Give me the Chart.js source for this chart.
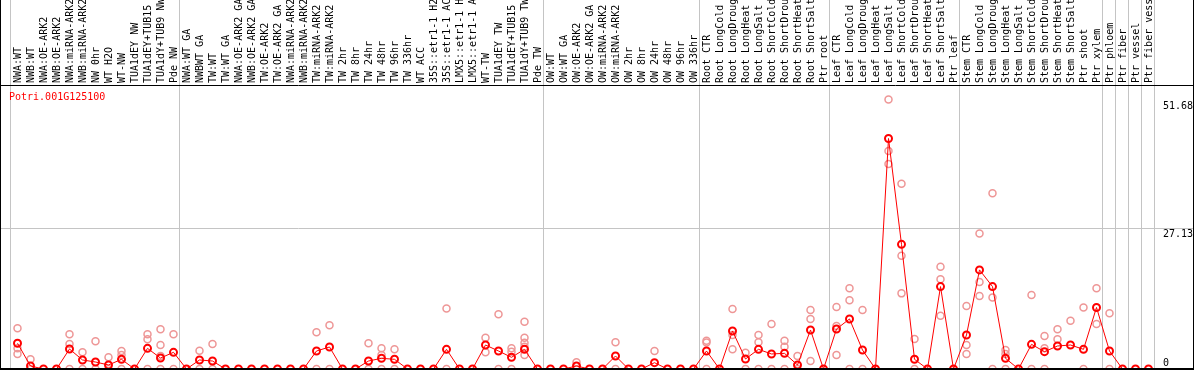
<!DOCTYPE html>
<html><head><meta charset="utf-8">
<script src="https://cdn.jsdelivr.net/npm/chart.js@4.4.1/dist/chart.umd.min.js"></script>
<style>html,body{margin:0;padding:0;background:#fff;overflow:hidden}#wrap{width:1194px;height:370px;position:relative}</style>
</head><body><div id="wrap"><canvas id="c" width="1194" height="370"></canvas></div>
<script>
const geneId = "Potri.001G125100";
const categories = [
 "NWA:WT","NWB:WT","NWA:OE-ARK2","NWB:OE-ARK2","NWA:miRNA-ARK2","NWB:miRNA-ARK2","NW 0hr","WT H2O","WT-NW","TUA1dEY NW","TUA1dEY+TUB15","TUA1dY+TUB9 NW","Pde NW",
 "NWA:WT GA","NWBWT GA","TW:WT","TW:WT GA","NWA:OE-ARK2 GA","NWB:OE-ARK2 GA","TW:OE-ARK2","TW:OE-ARK2 GA","NWA:miRNA-ARK2","NWB:miRNA-ARK2","TW:miRNA-ARK2","TW:miRNA-ARK2","TW 2hr","TW 8hr","TW 24hr","TW 48hr","TW 96hr","TW 336hr","WT ACC","35S::etr1-1 H2","35S::etr1-1 AC","LMX5::etr1-1 H","LMX5::etr1-1 A","WT-TW","TUA1dEY TW","TUA1dEY+TUB15","TUA1dY+TUB9 TW","Pde TW",
 "OW:WT","OW:WT GA","OW:OE-ARK2","OW:OE-ARK2 GA","OW:miRNA-ARK2","OW:miRNA-ARK2","OW 2hr","OW 8hr","OW 24hr","OW 48hr","OW 96hr","OW 336hr",
 "Root CTR","Root LongCold","Root LongDroug","Root LongHeat","Root LongSalt","Root ShortCold","Root ShortDrou","Root ShortHeat","Root ShortSalt","Ptr root",
 "Leaf CTR","Leaf LongCold","Leaf LongDroug","Leaf LongHeat","Leaf LongSalt","Leaf ShortCold","Leaf ShortDrou","Leaf ShortHeat","Leaf ShortSalt","Ptr leaf",
 "Stem CTR","Stem LongCold","Stem LongDroug","Stem LongHeat","Stem LongSalt","Stem ShortCold","Stem ShortDrou","Stem ShortHeat","Stem ShortSalt","Ptr shoot","Ptr xylem",
 "Ptr phloem","Ptr fiber","Ptr vessel","Ptr fiber vess"
];
const groupSizes = [13, 28, 12, 10, 10, 11, 1, 1, 1, 1];
const meanValues = [
 4.93,0.57,0,0,3.83,1.73,1.34,0.77,1.85,0,3.96,2.1,3.2,
 0,1.73,1.53,0,0,0,0,0,0,0,3.45,4.22,0,0,1.53,2.05,1.86,0,0,0,3.77,0,0,4.6,3.45,2.24,3.77,0,
 0,0,0.57,0,0,2.49,0,0,1.21,0,0,0,
 3.45,0,7.28,1.92,3.77,2.88,3.0,0.77,7.48,0,
 7.67,9.59,3.64,0,44.2,23.9,1.86,0,15.8,0,
 6.52,19.0,15.8,2.05,0,4.73,3.32,4.41,4.6,3.77,11.8,
 3.45,0,0,0
];
const replicateValues = [
 [7.8,3.97,2.88],[1.85,0],[],[],[6.65,4.79,0],[3.2,0],[5.3,0],[2.24,0],[3.45,2.68,0],[],[6.65,5.69,0],[7.6,4.6,2.49,0],[6.65,0],
 [],[3.51,0],[4.79,0],[],[],[],[],[],[],[],[7.03,0],[8.37,0],[],[],[4.92,0],[3.97,2.68,0],[3.77,0],[],[],[],[11.6,0],[],[],[6.0,3.2],[10.5,0],[3.97,3.32,0],[9.07,6.0,5.05,4.28,2.68],[],
 [],[],[1.28],[],[],[5.12,0],[],[],[3.45],[],[],[],
 [5.43,5.1,0],[],[11.5,6.52,3.77],[3.13,0],[6.52,5.12,0],[8.63,0],[5.43,4.28,0],[2.49,0],[11.3,9.59,1.53],[],
 [11.9,8.24,2.68],[15.5,13.2,0],[11.3,0],[],[51.68,41.8,39.3],[35.5,21.7,14.5],[5.75,0],[],[19.6,17.2,10.2],[],
 [12.1,4.6,2.88],[26.0,16.7,14.0],[33.7,13.7,0],[3.64,2.88,0],[],[14.2,0],[6.33,3.97,0],[7.6,5.69],[9.27],[11.8,0],[15.5,8.63],
 [10.7,0],[],[],[]
];
const yTickValues = [0, 27.13, 51.68];
const yTickLabels = ["0", "27.13", "51.68"];
const yGridValues = [27.13];
const yMax = 54.26;

const FONT = "'DejaVu Sans Mono', 'Liberation Mono', monospace";
const meanPoints = meanValues.map((v, i) => ({x: i, y: v}));
const repPoints = [];
replicateValues.forEach((arr, i) => arr.forEach(v => repPoints.push({x: i, y: v})));

const decor = {
  id: 'decor',
  beforeDraw(chart) {
    const ctx = chart.ctx, xs = chart.scales.x, ys = chart.scales.y;
    ctx.save();
    ctx.fillStyle = '#fff';
    ctx.fillRect(0, 0, chart.width, chart.height);
    ctx.strokeStyle = '#c4c4c4';
    ctx.lineWidth = 1;
    let b = 0;
    const bounds = [0];
    groupSizes.forEach(s => { b += s; bounds.push(b); });
    bounds.forEach(k => {
      const px = Math.round(xs.getPixelForValue(k - 0.5)) - 0.5;
      ctx.beginPath(); ctx.moveTo(px, 0); ctx.lineTo(px, ys.bottom); ctx.stroke();
    });
    yGridValues.forEach(v => {
      const py = Math.round(ys.getPixelForValue(v)) + 0.5;
      ctx.beginPath(); ctx.moveTo(0, py); ctx.lineTo(chart.width, py); ctx.stroke();
    });
    ctx.restore();
  },
  afterDraw(chart) {
    const ctx = chart.ctx, ys = chart.scales.y, area = chart.chartArea;
    ctx.save();
    ctx.strokeStyle = '#000';
    ctx.lineWidth = 1;
    ctx.beginPath();
    ctx.moveTo(0, area.top - 0.5); ctx.lineTo(chart.width, area.top - 0.5);
    ctx.moveTo(0.5, 0); ctx.lineTo(0.5, chart.height);
    ctx.moveTo(chart.width - 0.5, 0); ctx.lineTo(chart.width - 0.5, chart.height);
    ctx.stroke();
    ctx.lineWidth = 2;
    ctx.beginPath();
    ctx.moveTo(0, area.bottom); ctx.lineTo(chart.width, area.bottom);
    ctx.stroke();
    ctx.font = "10px " + FONT;
    ctx.fillStyle = '#000';
    ctx.textAlign = 'left';
    yTickValues.forEach((v, i) => {
      const py = ys.getPixelForValue(v);
      if (v === 0) { ctx.textBaseline = 'alphabetic'; ctx.fillText(yTickLabels[i], area.right + 8, py - 3); }
      else { ctx.textBaseline = 'top'; ctx.fillText(yTickLabels[i], area.right + 8, py + 2); }
    });
    ctx.fillStyle = '#ff0000';
    ctx.textBaseline = 'middle';
    ctx.fillText(geneId, 9, area.top + 11);
    ctx.restore();
  }
};

new Chart(document.getElementById('c'), {
  type: 'scatter',
  data: {
    datasets: [
      {
        label: 'mean', data: meanPoints, showLine: true,
        borderColor: '#ff0000', borderWidth: 1, tension: 0,
        pointRadius: 3.5, pointBorderWidth: 2, pointBorderColor: '#ff0000',
        pointBackgroundColor: 'rgba(0,0,0,0)', clip: false
      },
      {
        label: 'replicates', data: repPoints, showLine: false,
        pointRadius: 3.5, pointBorderWidth: 1.5, pointBorderColor: 'rgb(238,150,150)',
        pointBackgroundColor: 'rgba(0,0,0,0)', clip: false
      }
    ]
  },
  options: {
    responsive: false, animation: false, devicePixelRatio: 1,
    layout: {autoPadding: false, padding: {left: 11, right: 0, top: 0, bottom: 1}},
    plugins: {legend: {display: false}, tooltip: {enabled: false}, title: {display: false}},
    scales: {
      x: {
        type: 'linear', position: 'top', min: -0.5, max: categories.length - 0.5,
        grid: {display: false, drawTicks: false}, border: {display: false},
        afterBuildTicks: s => { s.ticks = categories.map((_, i) => ({value: i})); },
        afterFit: s => { s.height = 86; },
        ticks: {
          autoSkip: false, minRotation: 90, maxRotation: 90, padding: 3, labelOffset: 13,
          color: '#000', font: {family: FONT, size: 10},
          callback: v => categories[v]
        }
      },
      y: {
        type: 'linear', position: 'right', min: 0, max: yMax,
        grid: {display: false}, border: {display: false},
        ticks: {display: false},
        afterFit: s => { s.width = 39; }
      }
    }
  },
  plugins: [decor]
});
</script>
</body></html>
